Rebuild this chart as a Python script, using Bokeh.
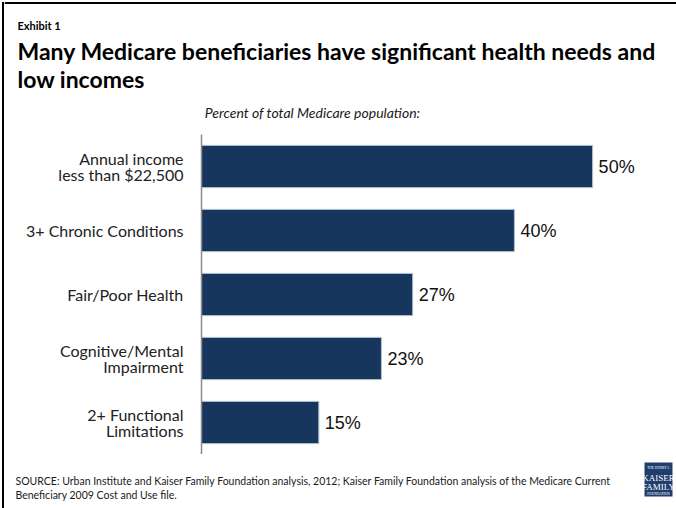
from bokeh.plotting import figure
from bokeh.layouts import column, row
from bokeh.models import ColumnDataSource, FactorRange, Range1d
from bokeh.core.properties import value
from bokeh.embed import file_html
from bokeh.resources import INLINE

# ---------------- data ----------------
categories = [
    "Annual income\nless than $22,500",
    "3+ Chronic Conditions",
    "Fair/Poor Health",
    "Cognitive/Mental\nImpairment",
    "2+ Functional\nLimitations",
]
values = [50, 40, 27, 23, 15]
value_labels = [f"{v}%" for v in values]

exhibit_text = "Exhibit  1"
title_lines = ["Many Medicare beneficiaries have significant  health needs and",
               "low incomes"]
subtitle_text = "Percent of total Medicare population:"
source_lines = [
    "SOURCE:  Urban Institute and Kaiser Family Foundation analysis, 2012; Kaiser Family Foundation analysis of the Medicare Current",
    "Beneficiary 2009 Cost and Use  file.",
]
logo_lines = ["THE HENRY J.", "KAISER", "FAMILY", "FOUNDATION"]

BAR = "#17365D"
TOTAL_W, TOTAL_H = 676, 508
OX = 4                      # width of the left slide-frame strip
W = TOTAL_W - OX
TOP_H, MAIN_H, BOT_H = 134, 320, 54
FL, FR = 201 - OX, 650 - OX
XMAX = 57.4


def no_align(f):
    try:
        f.frame_align = False
    except Exception:
        pass
    return f


def blank_fig(w, h, x0, x1, y0, y1):
    f = figure(width=w, height=h, output_backend="svg", toolbar_location=None,
               x_range=Range1d(x0, x1), y_range=Range1d(y1, y0),
               x_axis_location=None, y_axis_location=None,
               min_border=0, min_border_left=0, min_border_right=0,
               min_border_top=0, min_border_bottom=0)
    f.outline_line_color = None
    f.xgrid.visible = False
    f.ygrid.visible = False
    f.background_fill_color = "white"
    f.border_fill_color = "white"
    return no_align(f)


# ---------------- left frame strip ----------------
strip = blank_fig(OX, TOTAL_H, 0, OX, 0, TOTAL_H)
strip.quad(left=[1.5], right=[3.5], top=[1.5], bottom=[TOTAL_H],
           fill_color="#000000", line_color=None)

# ---------------- header (x in page px) ----------------
top = blank_fig(W, TOP_H, OX, TOTAL_W, 0, TOP_H)
top.quad(left=[OX], right=[TOTAL_W], top=[1.5], bottom=[3.5],
         fill_color="#000000", line_color=None)
top.text(x=[17], y=[25], text=[exhibit_text], text_font=value("Lato"),
         text_font_style="bold", text_font_size="11px", text_color="#000000",
         text_baseline="alphabetic")
top.text(x=[17, 17], y=[50, 78], text=title_lines, text_font=value("Lato"),
         text_font_style="bold", text_font_size="23px", text_color="#000000",
         text_baseline="alphabetic")
top.text(x=[312], y=[112], text=[subtitle_text], text_font=value("Lato"),
         text_font_style="italic", text_font_size="14px", text_color="#1a1a1a",
         text_baseline="alphabetic", text_align="center")

# ---------------- main chart ----------------
src = ColumnDataSource(dict(cat=categories, val=values, lab=value_labels))

p = figure(width=W, height=MAIN_H, output_backend="svg", toolbar_location=None,
           y_range=FactorRange(factors=list(reversed(categories))),
           x_range=Range1d(0, XMAX), x_axis_location=None,
           min_border_left=FL, min_border_right=W - FR,
           min_border_top=0, min_border_bottom=0)
no_align(p)
p.outline_line_color = None
p.background_fill_color = "white"
p.border_fill_color = "white"
p.xgrid.visible = False
p.ygrid.visible = False

ax = p.yaxis[0]
ax.axis_line_color = "#8C8C8C"
ax.axis_line_width = 1.5
ax.major_tick_line_color = None
ax.minor_tick_line_color = None
ax.major_tick_out = 0
ax.major_tick_in = 0
ax.major_label_standoff = 18
ax.major_label_text_font = "Lato"
ax.major_label_text_font_size = "16px"
ax.major_label_text_line_height = 0.85
ax.major_label_text_color = "#222222"

p.hbar(y="cat", right="val", left=0, height=0.66, source=src,
       fill_color=BAR, line_color="#B4C0CE", line_width=1)

p.text(x="val", y="cat", text="lab", source=src, x_offset=6,
       text_baseline="middle", text_align="left",
       text_font=value("Liberation Sans"), text_font_size="18px",
       text_color="#111111")

# ---------------- footer (x, y in page px) ----------------
bot = blank_fig(W, BOT_H, OX, TOTAL_W, TOP_H + MAIN_H, TOTAL_H)
bot.text(x=[15, 15], y=[480, 494], text=source_lines, text_font=value("Lato"),
         text_font_size="10.5px", text_color="#1a1a1a", text_baseline="alphabetic")
bot.quad(left=[644], right=[672], top=[462], bottom=[496],
         fill_color="#1F3E6E", line_color=None)
bot.text(x=[658] * 4, y=[467.5, 477, 486, 493.5], text=logo_lines,
         text_font=value("Liberation Serif"),
         text_font_size=["3.5px", "9px", "9px", "3.5px"],
         text_color="white", text_align="center", text_baseline="alphabetic")

layout = row(strip, column(column(top), p, column(bot), spacing=0), spacing=0)

open("out.html", "w").write(file_html(layout, INLINE))
